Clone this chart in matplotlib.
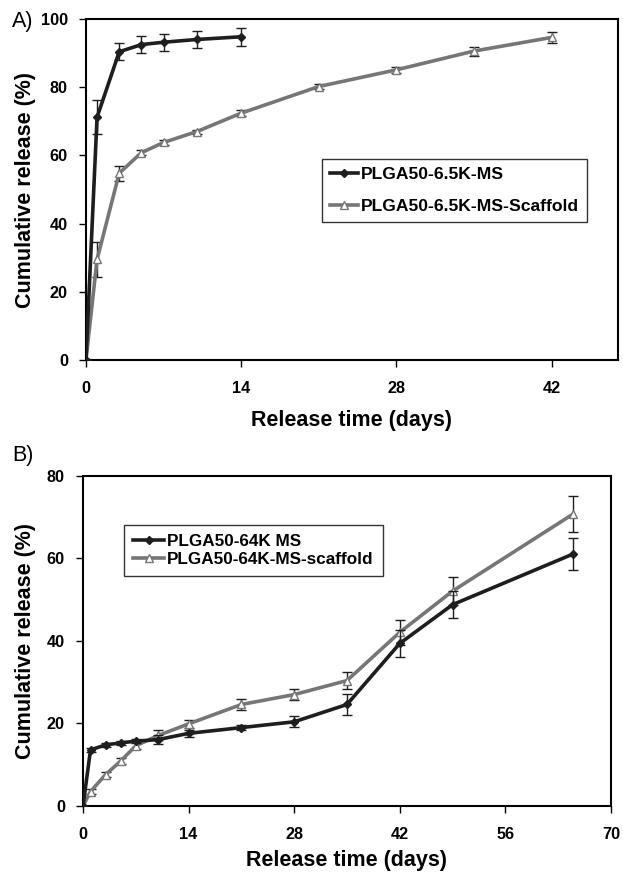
import matplotlib
matplotlib.use("Agg")
from matplotlib import pyplot as plt

plt.rcParams['font.family'] = ['Liberation Sans', 'DejaVu Sans']

# panel A data
days_ms_a = [0, 1, 3, 5, 7, 10, 14]
rel_ms_a = [0, 71.2, 90.4, 92.5, 93.2, 94.0, 94.8]
err_ms_a = [0, 5.0, 2.5, 2.4, 2.5, 2.6, 2.6]

days_sc_a = [0, 1, 3, 5, 7, 10, 14, 21, 28, 35, 42]
rel_sc_a = [0, 29.5, 54.8, 60.8, 63.8, 67.0, 72.4, 80.2, 85.1, 90.6, 94.6]
err_sc_a = [0, 5.2, 2.2, 0.7, 0.6, 0.6, 0.8, 0.8, 0.8, 1.3, 1.5]

# panel B data
days_b = [0, 1, 3, 5, 7, 10, 14, 21, 28, 35, 42, 49, 65]
rel_ms_b = [0, 13.6, 14.8, 15.3, 15.7, 16.1, 17.6, 19.0, 20.4, 24.6, 39.4, 48.8, 61.1]
err_ms_b = [0, 0.5, 0.5, 0.5, 0.5, 1.2, 0.8, 0.6, 1.3, 2.6, 3.2, 3.2, 3.9]
rel_sc_b = [0, 3.5, 7.6, 10.9, 14.6, 17.1, 19.9, 24.6, 27.0, 30.4, 42.1, 52.1, 70.8]
err_sc_b = [0, 0.5, 0.6, 0.7, 0.8, 1.2, 1.0, 1.3, 1.3, 2.0, 3.0, 3.5, 4.4]

labels_a = ['PLGA50-6.5K-MS', 'PLGA50-6.5K-MS-Scaffold']
labels_b = ['PLGA50-64K MS', 'PLGA50-64K-MS-scaffold']

dark = '#1e1e1e'
grey = '#767676'

fig = plt.figure(figsize=(6.23, 8.73), dpi=100)
axA = fig.add_axes([0.138, 0.5876, 0.854, 0.3906])
axB = fig.add_axes([0.1332, 0.0768, 0.8475, 0.378])


def draw(ax, x1, y1, e1, x2, y2, e2):
    c1 = ax.errorbar(x1, y1, yerr=e1, color=dark, lw=2.6, marker='D', ms=4.5,
                     mfc=dark, mec=dark, ecolor=dark, elinewidth=1, capsize=3.5,
                     capthick=1, zorder=3)
    c2 = ax.errorbar(x2, y2, yerr=e2, color=grey, lw=2.6, marker='^', ms=6,
                     mfc='white', mec=grey, mew=1, ecolor=dark, elinewidth=1,
                     capsize=3.5, capthick=1, zorder=2)
    for s in ax.spines.values():
        s.set_linewidth(1.5)
        s.set_color('black')
    ax.tick_params(direction='out', length=5, width=1, labelsize=11.7, pad=8)
    ax.tick_params(axis='x', pad=10)
    return [c1[0], c2[0]]


hA = draw(axA, days_ms_a, rel_ms_a, err_ms_a, days_sc_a, rel_sc_a, err_sc_a)
axA.set_xlim(0, 48)
axA.set_ylim(0, 100)
axA.set_xticks([0, 14, 28, 42])
axA.set_yticks([0, 20, 40, 60, 80, 100])
for t in axA.get_xticklabels() + axA.get_yticklabels():
    t.set_fontweight('bold')
axA.set_xlabel('Release time (days)', fontsize=15.5, fontweight='bold', va='center')
axA.set_ylabel('Cumulative release (%)', fontsize=15.5, fontweight='bold', va='center')
axA.xaxis.set_label_coords(0.5, -0.176)
axA.yaxis.set_label_coords(-0.113, 0.5)
legA = axA.legend(hA, labels_a, loc='upper left', bbox_to_anchor=(0.4436, 0.5894),
                  borderaxespad=0, prop={'weight': 'bold', 'size': 12.6},
                  frameon=True, fancybox=False, edgecolor='black',
                  handlelength=1.6, handletextpad=0.2, labelspacing=0.95,
                  borderpad=0.45)
legA.get_frame().set_linewidth(1)

hB = draw(axB, days_b, rel_ms_b, err_ms_b, days_b, rel_sc_b, err_sc_b)
axB.set_xlim(0, 70)
axB.set_ylim(0, 80)
axB.set_xticks([0, 14, 28, 42, 56, 70])
axB.set_yticks([0, 20, 40, 60, 80])
for t in axB.get_xticklabels() + axB.get_yticklabels():
    t.set_fontweight('bold')
axB.set_xlabel('Release time (days)', fontsize=15.5, fontweight='bold', va='center')
axB.set_ylabel('Cumulative release (%)', fontsize=15.5, fontweight='bold', va='center')
axB.xaxis.set_label_coords(0.5, -0.165)
axB.yaxis.set_label_coords(-0.108, 0.5)
legB = axB.legend(hB, labels_b, loc='upper left', bbox_to_anchor=(0.0777, 0.8515),
                  borderaxespad=0, prop={'weight': 'bold', 'size': 12.3},
                  frameon=True, fancybox=False, edgecolor='black',
                  handlelength=1.8, handletextpad=0.15, labelspacing=0.15,
                  borderpad=0.55)
legB.get_frame().set_linewidth(1)

fig.text(12 / 623, 1 - 22 / 873, 'A)', fontsize=15.5, va='center', ha='left')
fig.text(12 / 623, 1 - 455 / 873, 'B)', fontsize=15.5, va='center', ha='left')

fig.savefig('out.png', dpi=100)
